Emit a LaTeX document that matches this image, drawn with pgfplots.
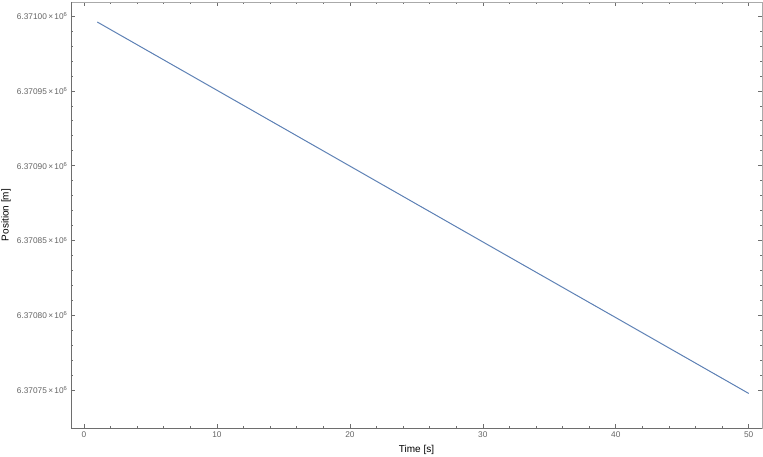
\documentclass[border=0pt]{standalone}
\usepackage{fontspec}
\setmainfont{Liberation Sans}
\usepackage{pgfplots}
\pgfplotsset{compat=1.18}

\definecolor{mmablue}{RGB}{94,129,181}
\definecolor{framedark}{RGB}{110,110,110}
\definecolor{framelight}{RGB}{170,170,170}
\definecolor{labelgray}{RGB}{100,100,100}

\newcommand{\sci}[1]{#1\,×\,10\textsuperscript{6}}

\begin{document}
\begin{tikzpicture}
% y is position minus 6370000 m (fpu would lose the metres at 6.37e6)
\begin{axis}[
scale only axis,
width=691pt,
height=426pt,
xmin=-0.98, xmax=51.0,
ymin=724.6, ymax=1009.4,
xtick={0,10,20,30,40,50},
minor x tick num=4,
ytick={750,800,850,900,950,1000},
yticklabels={\sci{6.37075},\sci{6.37080},\sci{6.37085},\sci{6.37090},\sci{6.37095},\sci{6.37100}},
minor y tick num=4,
tick align=inside,
major tick length=4pt,
minor tick length=2.5pt,
tick style={color=framedark, line width=0.6pt},
axis line style={color=framelight, line width=0.8pt},
/pgf/number format/assume math mode=true,
ticklabel style={font=\fontsize{8.3}{9}\selectfont, color=labelgray},
xlabel={Time [s]},
ylabel={Position [m]},
label style={font=\fontsize{8}{9}\selectfont, color=labelgray},
every axis x label/.style={at={(axis description cs:0.5,0)}, yshift=-22pt, anchor=center},
every axis y label/.style={at={(axis description cs:0,0.5)}, xshift=-65pt, rotate=90, anchor=center},
]
\draw[color=framedark, line width=0.8pt] (rel axis cs:0,1) -- (rel axis cs:0,0) -- (rel axis cs:1,0);
\addplot[color=mmablue, line width=1pt, mark=none] coordinates {
(1,996.0) (10,950.4) (20,899.7) (30,849.0) (40,798.4) (50,747.7)
};
\end{axis}
\pgfresetboundingbox
\path ([shift={(-71pt,-28pt)}]current axis.south west) rectangle ([shift={(1pt,2pt)}]current axis.north east);
\end{tikzpicture}
\end{document}
